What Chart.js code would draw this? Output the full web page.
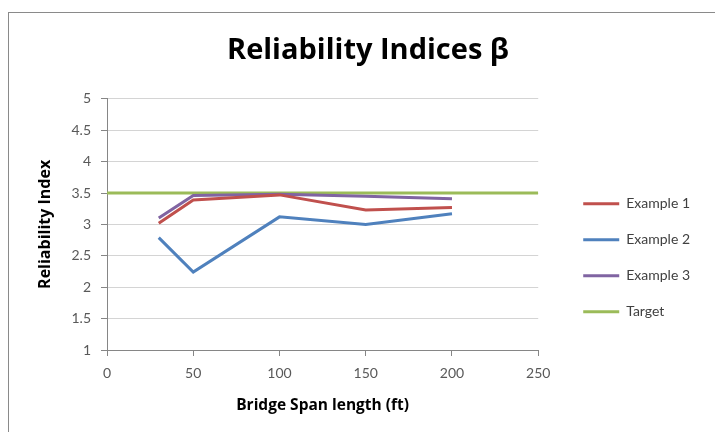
<!DOCTYPE html>
<html>
<head>
<meta charset="utf-8">
<script src="https://cdn.jsdelivr.net/npm/chart.js@4.4.0/dist/chart.umd.min.js"></script>
<style>
  html, body { margin: 0; padding: 0; background: #fff; }
  #wrap { position: relative; width: 715px; height: 432px; }
  #frame {
    position: absolute; left: 8px; top: 12px; right: -2px; bottom: -2px;
    border-left: 1.5px solid #8a8a8a; border-top: 1.5px solid #8a8a8a;
    pointer-events: none;
  }
</style>
</head>
<body>
<div id="wrap">
  <canvas id="chart" width="715" height="432"></canvas>
  <div id="frame"></div>
</div>
<script>
// Reliability indices vs span length
const spans = [30, 50, 100, 150, 200];
const example1 = [3.02, 3.39, 3.47, 3.23, 3.27];
const example2 = [2.79, 2.24, 3.12, 3.00, 3.17];
const example3 = [3.10, 3.46, 3.48, 3.45, 3.41];
const targetSpans = [0, 250];
const targetValues = [3.5, 3.5];

const FONT = "Lato, 'Open Sans', sans-serif";
const TITLE_FONT = "'Open Sans', Lato, sans-serif";

function toPoints(xs, ys) {
  return xs.map((x, i) => ({ x: x, y: ys[i] }));
}

function lineSet(label, xs, ys, color) {
  return {
    label: label,
    data: toPoints(xs, ys),
    borderColor: color,
    backgroundColor: color,
    borderWidth: 3,
    pointRadius: 0,
    tension: 0,
    showLine: true
  };
}

// legend swatches as thin lines instead of boxes
function legendLabels(chart) {
  const items = Chart.defaults.plugins.legend.labels.generateLabels(chart);
  items.forEach(item => { item.lineWidth = 0; });
  return items;
}

const ctx = document.getElementById('chart').getContext('2d');
new Chart(ctx, {
  type: 'scatter',
  data: {
    datasets: [
      lineSet('Example 1', spans, example1, '#C0504D'),
      lineSet('Example 2', spans, example2, '#4F81BD'),
      lineSet('Example 3', spans, example3, '#8064A2'),
      lineSet('Target', targetSpans, targetValues, '#9BBB59')
    ]
  },
  options: {
    responsive: false,
    animation: false,
    layout: { padding: { left: 36, right: 15, top: 0, bottom: 0 } },
    plugins: {
      tooltip: { enabled: false },
      title: {
        display: true,
        text: 'Reliability Indices β',
        color: '#000',
        font: { family: TITLE_FONT, size: 29, weight: 'bold' },
        padding: { top: 33, bottom: 31 }
      },
      legend: {
        position: 'right',
        align: 'start',
        maxWidth: 200,
        // blank title only pushes the items down to the middle of the plot
        title: { display: true, text: ' ', font: { family: FONT, size: 14 }, padding: { top: 158, bottom: 0 } },
        labels: {
          boxWidth: 36,
          boxHeight: 3,
          padding: 22,
          color: '#404040',
          font: { family: FONT, size: 14 },
          generateLabels: legendLabels
        }
      }
    },
    scales: {
      x: {
        type: 'linear',
        min: 0,
        max: 250,
        afterFit: (scale) => { scale.height = 82; },
        ticks: { stepSize: 50, color: '#595959', padding: 9, font: { family: FONT, size: 14 } },
        grid: { drawOnChartArea: false, drawTicks: true, tickLength: 6, color: '#868686' },
        border: { color: '#868686' },
        title: {
          display: true,
          text: 'Bridge Span length (ft)',
          color: '#000',
          font: { family: TITLE_FONT, size: 15.5, weight: 'bold' },
          padding: { top: 0, bottom: 17 }
        }
      },
      y: {
        min: 1,
        max: 5,
        afterFit: (scale) => { scale.width = 71; },
        ticks: {
          stepSize: 0.5,
          color: '#595959',
          padding: 10,
          font: { family: FONT, size: 14 },
          callback: (v) => String(v)
        },
        grid: { color: '#d4d4d4', tickColor: '#868686', tickLength: 6 },
        border: { color: '#868686' },
        title: {
          display: true,
          text: 'Reliability Index',
          color: '#000',
          font: { family: TITLE_FONT, size: 16, weight: 'bold' },
          padding: { top: 0, bottom: 0 }
        }
      },
      gap: {
        position: 'right',
        afterFit: (scale) => { scale.width = 23; },
        ticks: { display: false },
        grid: { display: false },
        border: { display: false }
      }
    }
  }
});
</script>
</body>
</html>
